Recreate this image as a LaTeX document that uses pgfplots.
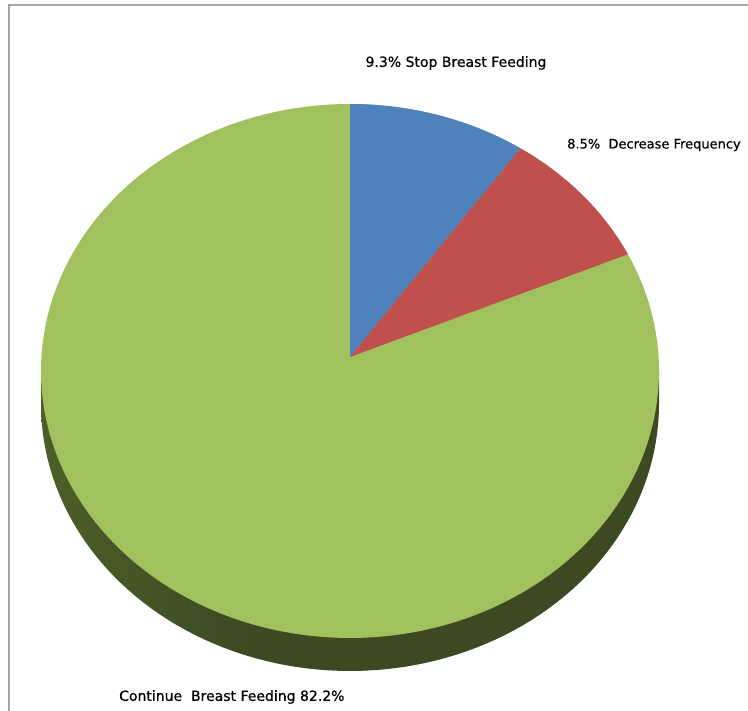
\documentclass[border=0pt]{standalone}
\usepackage{pgfplots}
\usepackage{pgfplotstable}
\pgfplotsset{compat=1.18}
\usepackage{fontspec}
\setmainfont{DejaVu Sans}[FakeBold=0.6]
\newfontfamily\lblfont{DejaVu Sans}[FakeBold=0.6]

\definecolor{pblue}{HTML}{4F81BD}
\definecolor{pred}{HTML}{C0504D}
\definecolor{pgreen}{HTML}{A1C05E}
\definecolor{sideL}{HTML}{71913F}
\definecolor{sideM}{HTML}{4E6329}
\definecolor{sideD}{HTML}{3D4922}
\definecolor{frame}{HTML}{A6A6A6}
\pgfdeclarehorizontalshading{pieside}{100bp}{color(0bp)=(sideL); color(22bp)=(sideM); color(42bp)=(sideD); color(100bp)=(sideD)}

\pgfplotstableread{
label pct
Stop 9.3
Decrease 8.5
Continue 82.2
}\piedata

\begin{document}
\begin{tikzpicture}
\pgfplotstablegetelem{0}{pct}\of\piedata \let\pa\pgfplotsretval
\pgfplotstablegetelem{1}{pct}\of\piedata \let\pb\pgfplotsretval
\pgfmathsetmacro\angA{90-3.6*\pa}
\pgfmathsetmacro\angB{\angA-3.6*\pb}
\begin{axis}[
  name=ax,
  width=748pt, height=711pt, scale only axis,
  xmin=0, xmax=748, ymin=0, ymax=711,
  hide axis, clip=false,
]
% side of the pie
\addplot[draw=none, shade, shading=pieside,
  domain=0:360, samples=181] ({350+309*cos(x)},{307+267*sin(x)}) -- cycle;
\addplot[draw=none, shade, shading=pieside]
  coordinates {(41,340) (659,340) (659,307) (41,307)} -- cycle;
% top face
\addplot[draw=none, fill=pgreen, domain=0:360, samples=181]
  ({350+309*cos(x)},{340+267*sin(x)}) -- cycle;
\addplot[draw=none, fill=pblue, domain=\angA:90, samples=60]
  ({350+309*cos(x)},{340+267*sin(x)}) -- (axis cs:350,354) -- cycle;
\addplot[draw=none, fill=pred, domain=\angB:\angA, samples=60]
  ({350+309*cos(x)},{340+267*sin(x)}) -- (axis cs:350,354) -- cycle;
% frame
\draw[frame, line width=1.5pt] (axis cs:9,-2) -- (axis cs:9,706) -- (axis cs:760,706);
% labels
\node[font=\lblfont\fontsize{14}{16}\selectfont, anchor=center] at (axis cs:456,648) {9.3\% Stop Breast Feeding};
\node[font=\lblfont\fontsize{13}{15}\selectfont, anchor=west, inner sep=0pt] at (axis cs:567,566) {8.5\%\ \ Decrease Frequency};
\node[font=\lblfont\fontsize{14}{16}\selectfont, anchor=west, inner sep=0pt] at (axis cs:119,14) {Continue\ \ Breast Feeding 82.2\%};
\end{axis}
\pgfresetboundingbox
\path (ax.south west) rectangle (ax.north east);
\end{tikzpicture}
\end{document}
